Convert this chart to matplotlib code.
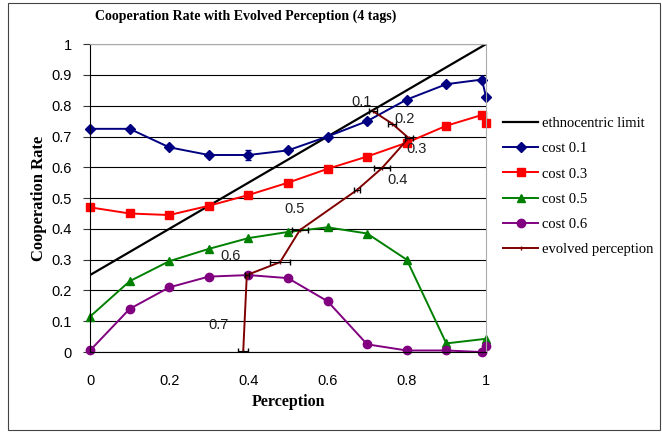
import numpy as np
import matplotlib
matplotlib.use("Agg")
import matplotlib.pyplot as plt
from matplotlib.patches import Rectangle

# perception values
x_cost = [0, 0.1, 0.2, 0.3, 0.4, 0.5, 0.6, 0.7, 0.8, 0.9, 0.99, 1.0]
cost01 = [0.725, 0.725, 0.665, 0.64, 0.64, 0.655, 0.70, 0.75, 0.82, 0.87, 0.885, 0.83]
cost03 = [0.47, 0.45, 0.445, 0.475, 0.51, 0.55, 0.595, 0.635, 0.68, 0.735, 0.77, 0.745]
x_cost05 = [0, 0.1, 0.2, 0.3, 0.4, 0.5, 0.6, 0.7, 0.8, 0.9, 1.0]
cost05 = [0.115, 0.23, 0.295, 0.335, 0.37, 0.39, 0.405, 0.385, 0.30, 0.028, 0.043]
cost06 = [0.005, 0.14, 0.21, 0.245, 0.25, 0.24, 0.165, 0.025, 0.005, 0.005, 0.0, 0.02]

ethno_x = [0, 1]
ethno_y = [0.25, 1.0]

# evolved perception (x = perception, y = cooperation), horizontal error
evo_x = [0.715, 0.763, 0.805, 0.737, 0.674, 0.53, 0.48, 0.396, 0.387]
evo_y = [0.782, 0.742, 0.695, 0.597, 0.526, 0.396, 0.292, 0.25, 0.003]
evo_err = [0.01, 0.01, 0.01, 0.02, 0.008, 0.02, 0.025, 0.005, 0.012]
evo_labels = ["0.1", "0.2", "0.3", "0.4", "0.5", "0.6", "0.7"]
label_pos = [(0.66, 0.80), (0.77, 0.745), (0.80, 0.645), (0.75, 0.545),
             (0.49, 0.45), (0.33, 0.30), (0.30, 0.075)]

fig = plt.figure(figsize=(6.62, 4.33), dpi=100)
fig.patches.append(Rectangle((0.012, 0.006), 0.985, 0.988, transform=fig.transFigure,
                             fill=False, edgecolor="#444444", linewidth=0.8))
ax = fig.add_axes([0.136, 0.187, 0.598, 0.711])

ax.plot(ethno_x, ethno_y, color="black", lw=1.6, label="ethnocentric limit")
ax.plot(x_cost, cost01, color="#000080", lw=1.4, marker="D", ms=5, clip_on=False, label="cost 0.1")
ax.errorbar([0.4], [0.64], yerr=0.015, color="#000080", capsize=2, lw=0.8)
ax.plot(x_cost, cost03, color="#ff0000", lw=1.4, marker="s", ms=6, clip_on=False, label="cost 0.3")
ax.plot(x_cost05, cost05, color="#008000", lw=1.4, marker="^", ms=6, clip_on=False, label="cost 0.5")
ax.plot(x_cost, cost06, color="#800080", lw=1.4, marker="o", ms=6, clip_on=False, label="cost 0.6")
ax.plot(evo_x, evo_y, color="#800000", lw=1.4, marker="|", ms=3, label="evolved perception")
ax.errorbar(evo_x, evo_y, xerr=evo_err, fmt="none", ecolor="black", elinewidth=0.8, capsize=2.5)

for txt, (lx, ly) in zip(evo_labels, label_pos):
    ax.text(lx, ly, txt, fontsize=10.5, family="Liberation Sans", color="#222222")

ax.set_xlim(0, 1)
ax.set_ylim(0, 1)
ax.set_xticks(np.arange(0, 1.01, 0.2))
ax.set_xticklabels(["0", "0.2", "0.4", "0.6", "0.8", "1"])
ax.set_yticks(np.arange(0, 1.01, 0.1))
ax.set_yticklabels(["0", "0.1", "0.2", "0.3", "0.4", "0.5", "0.6", "0.7", "0.8", "0.9", "1"])
ax.yaxis.grid(True, color="black", lw=0.8)
ax.set_axisbelow(True)
for lab in ax.get_xticklabels() + ax.get_yticklabels():
    lab.set_family("Liberation Sans")
    lab.set_fontsize(10.5)
ax.tick_params(axis="y", direction="out", length=5, pad=8, color="#333333")
ax.tick_params(axis="x", length=0, pad=16)
ax.spines["top"].set_color("#aaaaaa")
ax.spines["right"].set_color("#aaaaaa")

fig.text(246 / 662, 1 - 16 / 433, "Cooperation Rate with Evolved Perception (4 tags)",
         family="Liberation Serif", fontweight="bold", fontsize=10, ha="center", va="center")
ax.set_xlabel("Perception", family="Liberation Serif", fontweight="bold", fontsize=11.5, labelpad=4)
ax.set_ylabel("Cooperation Rate", family="Liberation Serif", fontweight="bold", fontsize=12, labelpad=3)

leg = fig.legend(loc="upper left", bbox_to_anchor=(0.74, 0.76), frameon=False,
                 prop={"family": "Liberation Serif", "size": 10.5}, handlelength=2.4,
                 labelspacing=0.82, handletextpad=0.3, numpoints=1)

fig.savefig("out.png", dpi=100)
